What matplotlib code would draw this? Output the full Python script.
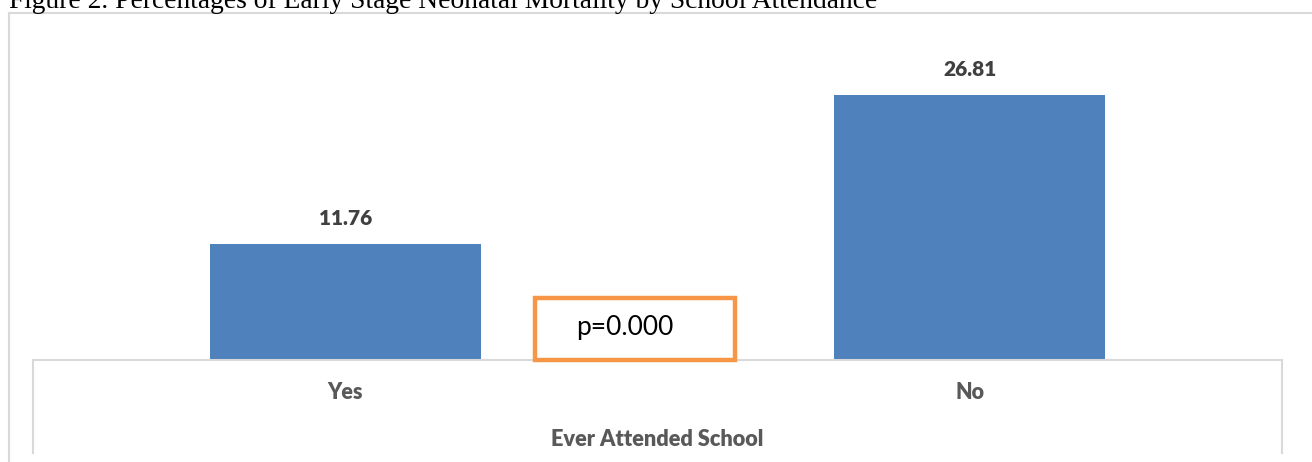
import matplotlib
matplotlib.use("Agg")
import matplotlib.pyplot as plt
from matplotlib.patches import Rectangle
from matplotlib.lines import Line2D

categories = ["Yes", "No"]
values = [11.76, 26.81]
value_labels = ["11.76", "26.81"]
axis_title = "Ever Attended School"
fig_title = "Figure 2. Percentages of Early Stage Neonatal Mortality by School Attendance"
p_text = "p=0.000"

W, H = 1312, 462
fig = plt.figure(figsize=(W / 100, H / 100), dpi=100)
fig.patch.set_facecolor("white")

def fx(px):
    return px / W

def fy(py):
    return 1 - py / H

gray = "#D9D9D9"
bar_color = "#4F81BD"
label_color = "#404040"
cat_color = "#595959"

ax_left, ax_right = 33, 1282
ax_bottom, ax_top = 360, 63.5
ax = fig.add_axes([fx(ax_left), fy(ax_bottom), fx(ax_right - ax_left), (ax_bottom - ax_top) / H])
x = list(range(len(categories)))
bars = ax.bar(x, values, width=0.434, color=bar_color, zorder=2)
ax.set_xlim(-0.5, len(categories) - 0.5)
ax.set_ylim(0, 30)
for s in ["top", "left", "right"]:
    ax.spines[s].set_visible(False)
ax.spines["bottom"].set_color(gray)
ax.spines["bottom"].set_linewidth(1.5)
ax.set_yticks([])
ax.set_xticks(x)
ax.set_xticklabels(categories, fontfamily="Lato", fontweight="heavy", fontsize=15.5, color=cat_color)
ax.tick_params(axis="x", length=0, pad=16)
ax.patch.set_alpha(0)

for xi, v, lab in zip(x, values, value_labels):
    ax.annotate(lab, (xi, v), xytext=(0, 16), textcoords="offset pixels", ha="center", va="bottom",
                fontfamily="Lato", fontweight="heavy", fontsize=15, color=label_color, annotation_clip=False)

fig.text(fx((ax_left + ax_right) / 2), fy(440), axis_title, ha="center", va="center",
         fontfamily="Lato", fontweight="heavy", fontsize=15.7, color=cat_color)

fig.add_artist(Line2D([fx(ax_left), fx(ax_left)], [fy(360), fy(453)], color=gray, lw=1.5))
fig.add_artist(Line2D([fx(ax_right), fx(ax_right)], [fy(360), fy(453)], color=gray, lw=1.5))

fig.add_artist(Line2D([fx(9), fx(9)], [fy(12.7), fy(470)], color=gray, lw=1.5))
fig.add_artist(Line2D([fx(9), fx(1320)], [fy(12.7), fy(12.7)], color=gray, lw=1.5))

fig.add_artist(Rectangle((fx(534.5), fy(359.5)), fx(201), (359.5 - 297.5) / H, fill=True,
                         facecolor="white", edgecolor="#F79646", lw=3.2, zorder=5,
                         transform=fig.transFigure))
fig.text(fx(576), fy(327), p_text, ha="left", va="center", fontfamily="Lato", fontsize=19,
         color="black", zorder=6)

t = fig.text(fx(9), fy(7.5), fig_title, ha="left", va="baseline", fontfamily="Liberation Serif",
             fontsize=20, color="black")
fig.canvas.draw()
bb = t.get_window_extent()
t.set_fontsize(20 * (877 - 9) / bb.width)

fig.savefig("out.png", dpi=100)
